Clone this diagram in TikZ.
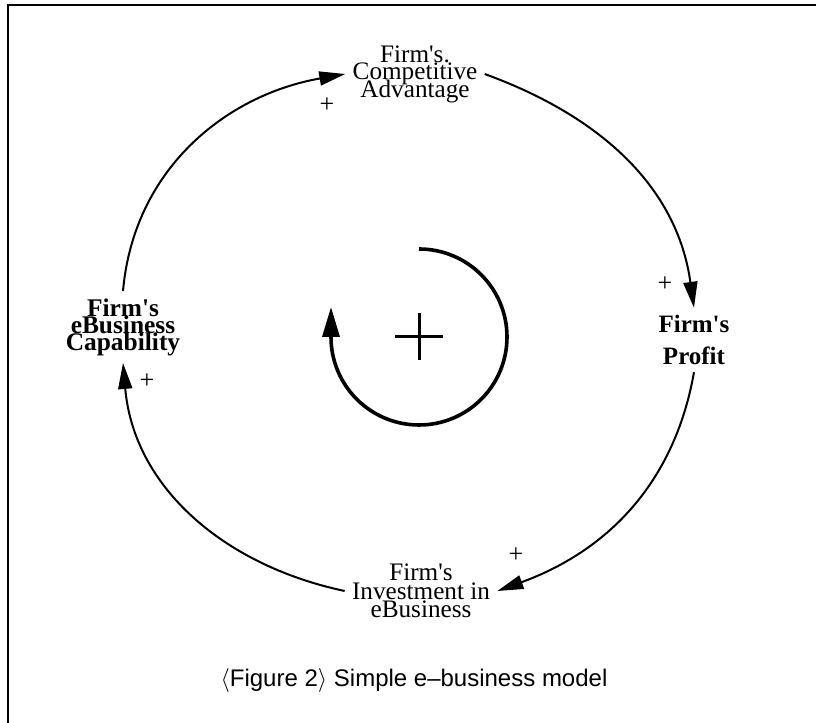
\documentclass[tikz,border=0pt]{standalone}
\usepackage{fontspec}
\setmainfont{Liberation Serif}
\newfontfamily\capfont{Liberation Sans}
\usetikzlibrary{arrows.meta}
\newcommand\tightlines{\lineskiplimit=-20pt\relax}
\newcommand\firms{Firm\textquotesingle s}

\begin{document}
\begin{tikzpicture}[x=0.5pt, y=0.5pt,
	var/.style={align=center, inner sep=3.5pt},
	link/.style={line width=1pt, -{Triangle[length=13pt, width=7pt]}},
	pol/.style={inner sep=0pt, font=\fontsize{13}{13}\selectfont}]
	\useasboundingbox (0,0) rectangle (816,723);
	\draw[line width=1pt] (816,718) -- (8,718) -- (8,0);

	\node[var, font=\fontsize{12.6}{8.8}\selectfont\tightlines] (cadv) at (415,649) {\firms.\\Competitive\\Advantage};
	\node[var, font=\bfseries\fontsize{12.5}{16}\selectfont] (profit) at (694,383) {\firms\\Profit};
	\node[var, font=\fontsize{12.6}{9.2}\selectfont\tightlines] (invest) at (421,132) {\firms\\Investment in\\eBusiness};
	\node[var, font=\bfseries\fontsize{12.7}{8.5}\selectfont\tightlines] (capab) at (123,396) {\firms\\eBusiness\\Capability};

	\draw[link] (cadv.east) to[out=-20, in=98] (profit.north);
	\draw[link] (profit.south) to[out=-100, in=20] (invest.east);
	\draw[link] (invest.west) to[out=168, in=-85] (capab.south);
	\draw[link] (capab.north) to[out=85, in=190] (cadv.west);

	\node[pol] (p1) at (327,618) {+};
	\node[pol] (p2) at (665,439) {+};
	\node[pol] (p3) at (516,168) {+};
	\node[pol] (p4) at (147,342) {+};

	\draw[line width=1.8pt, -{Triangle[length=15pt, width=8.5pt]}] (419,474) arc[start angle=90, end angle=-180, radius=88] -- ++(0,30);
	\draw[line width=1.5pt] (395,386) -- (443,386);
	\draw[line width=1.5pt] (419,410) -- (419,363);

	\node (caption) at (414,42) {\capfont\fontsize{12}{14}\selectfont $\langle$Figure 2$\rangle$ Simple e–business model};
\end{tikzpicture}
\end{document}
